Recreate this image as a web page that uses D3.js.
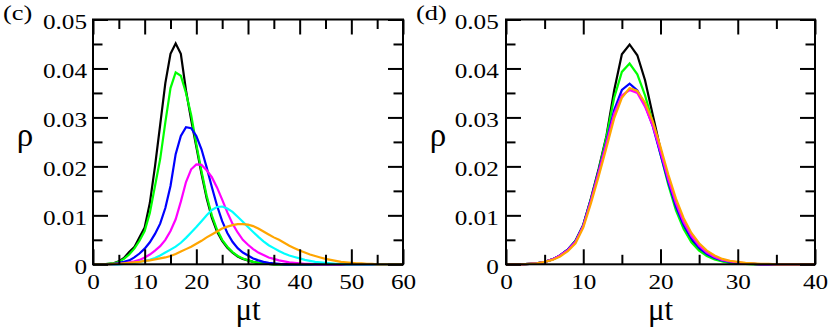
<!DOCTYPE html>
<html>
<head>
<meta charset="utf-8">
<script src="https://cdn.jsdelivr.net/npm/d3@7"></script>
<style>
  html, body { margin: 0; padding: 0; background: #fff; }
  svg { display: block; }
</style>
</head>
<body>
<div id="chart"></div>
<script>
// Layout constants
const CFG = {
  width: 830,
  height: 327,
  top: 19.5,
  bottom: 264.3,
  majorTick: 15,
  minorTick: 9.5,
  tickFont: 21,
  titleFont: 31,
  stretch: 1.2,
  fontFamily: '"Liberation Serif", "Times New Roman", serif',
};

// ---- data: panel (c) ----
const tC = [0,1,2,3,4,5,6,7,8,9,10,11,12,13,14,15,16,17,18,19,20,21,22,23,24,25,26,27,28,29,30,
  31,32,33,34,35,36,37,38,39,40,41,42,43,44,45,46,47,48,49,50,51,52,53,54,55,56,57,58,59,60];
const blackC = [0,0,0,0.0001,0.0002,0.0006,0.0013,0.0025,0.0035,0.0055,0.0075,0.0125,0.0200,0.0285,0.0370,0.0430,0.0451,
  0.0430,0.0355,0.0295,0.0240,0.0185,0.0135,0.0095,0.0067,0.0048,0.0034,0.0024,0.0016,0.0011,0.0008,
  0.0005,0.0003,0.0002,0.0001,0,0,0,0,0,0,0,0,0,0,0,0,0,0,0,0,0,0,0,0,0,0,0,0,0,0];
const greenC = [0,0,0,0.0001,0.0002,0.0005,0.0011,0.0020,0.0032,0.0048,0.0068,0.0105,0.0160,0.0215,0.0290,0.0360,0.0392,
  0.0385,0.0350,0.0305,0.0245,0.0190,0.0140,0.0100,0.0071,0.0050,0.0036,0.0025,0.0017,0.0012,0.0008,
  0.0005,0.0003,0.0002,0.0001,0,0,0,0,0,0,0,0,0,0,0,0,0,0,0,0,0,0,0,0,0,0,0,0,0,0];
const blueC = [0,0,0,0,0.0001,0.0003,0.0005,0.0008,0.0014,0.0022,0.0032,0.0045,0.0062,0.0083,0.0115,0.0160,0.0225,
  0.0262,0.0280,0.0278,0.0262,0.0235,0.0198,0.0158,0.0120,0.0088,0.0064,0.0046,0.0033,0.0024,0.0018,
  0.0012,0.0008,0.0005,0.0003,0.0002,0.0001,0,0,0,0,0,0,0,0,0,0,0,0,0,0,0,0,0,0,0,0,0,0,0,0];
const magentaC = [0,0,0,0,0,0.0001,0.0002,0.0004,0.0006,0.0009,0.0014,0.0020,0.0028,0.0037,0.0050,0.0068,0.0092,
  0.0128,0.0168,0.0194,0.0204,0.0203,0.0192,0.0178,0.0157,0.0132,0.0106,0.0083,0.0065,0.0050,0.0040,
  0.0031,0.0024,0.0019,0.0014,0.0011,0.0008,0.0006,0.0004,0.0003,0.0002,0.0001,0.0001,0,0,0,0,0,0,0,0,0,0,0,0,0,0,0,0,0,0];
const cyanC = [0,0,0,0,0,0,0.0001,0.0002,0.0003,0.0005,0.0007,0.0009,0.0013,0.0018,0.0024,0.0030,0.0036,
  0.0044,0.0054,0.0065,0.0076,0.0088,0.0100,0.0111,0.0117,0.0118,0.0114,0.0107,0.0097,0.0087,0.0076,
  0.0066,0.0056,0.0047,0.0039,0.0033,0.0027,0.0022,0.0018,0.0015,0.0012,0.0009,0.0007,0.0005,0.0004,0.0003,
  0.0002,0.0001,0.0001,0,0,0,0,0,0,0,0,0,0,0,0];
const orangeC = [0,0,0,0,0.0001,0.0001,0.0002,0.0003,0.0004,0.0005,0.0007,0.0008,0.0010,0.0012,0.0014,0.0017,0.0021,
  0.0026,0.0031,0.0036,0.0042,0.0048,0.0055,0.0061,0.0067,0.0073,0.0077,0.0080,0.0082,0.0082,0.0081,
  0.0078,0.0073,0.0067,0.0061,0.0055,0.0050,0.0044,0.0038,0.0033,0.0028,0.0024,0.0020,0.0017,0.0014,0.0011,
  0.0009,0.0007,0.0005,0.0004,0.0003,0.0002,0.0002,0.0001,0.0001,0,0,0,0,0,0];

// ---- data: panel (d) ----
const tD = [0,1,2,3,4,5,6,7,8,9,10,11,12,13,14,15,16,17,18,19,20,21,22,23,24,25,26,27,28,29,30,
  31,32,33,34,35,36,37,38,39,40];
const blackD = [0,0,0,0.0001,0.0002,0.0005,0.0010,0.0018,0.0030,0.0048,0.0080,0.0135,0.0195,0.0262,0.0355,0.0429,0.0449,
  0.0427,0.0376,0.0305,0.0235,0.0170,0.0115,0.0077,0.0050,0.0032,0.0020,0.0012,0.0007,0.0004,0.0002,
  0.0001,0.0001,0,0,0,0,0,0,0,0];
const greenD = [0,0,0,0.0001,0.0002,0.0005,0.0010,0.0018,0.0030,0.0048,0.0080,0.0133,0.0192,0.0260,0.0340,0.0393,0.0410,
  0.0388,0.0345,0.0290,0.0225,0.0163,0.0110,0.0072,0.0045,0.0028,0.0017,0.0010,0.0006,0.0003,0.0002,
  0.0001,0,0,0,0,0,0,0,0,0];
const blueD = [0,0,0,0.0001,0.0002,0.0005,0.0010,0.0018,0.0030,0.0047,0.0080,0.0132,0.0190,0.0250,0.0315,0.0356,0.0369,
  0.0355,0.0325,0.0282,0.0225,0.0168,0.0118,0.0080,0.0053,0.0034,0.0021,0.0013,0.0008,0.0005,0.0003,
  0.0002,0.0001,0,0,0,0,0,0,0,0];
const magentaD = [0,0,0,0.0001,0.0002,0.0005,0.0010,0.0018,0.0029,0.0046,0.0078,0.0130,0.0188,0.0247,0.0308,0.0345,0.0356,
  0.0350,0.0322,0.0283,0.0230,0.0174,0.0125,0.0086,0.0058,0.0038,0.0024,0.0015,0.0009,0.0006,0.0004,
  0.0002,0.0001,0,0,0,0,0,0,0,0];
const orangeD = [0,0,0,0.0001,0.0002,0.0005,0.0009,0.0016,0.0027,0.0043,0.0075,0.0125,0.0180,0.0238,0.0298,0.0340,0.0360,
  0.0354,0.0330,0.0292,0.0240,0.0184,0.0134,0.0094,0.0064,0.0043,0.0028,0.0018,0.0011,0.0007,0.0005,
  0.0003,0.0002,0.0001,0.0001,0,0,0,0,0,0];

const colors = { black: '#000000', green: '#00ff00', blue: '#0000ff', magenta: '#ff00ff', cyan: '#00ffff', orange: '#ffa500' };

const yTicks = [0, 0.01, 0.02, 0.03, 0.04, 0.05];
const yMinor = [0.005, 0.015, 0.025, 0.035, 0.045];

const panels = [
  {
    label: '(c)', labelX: 3, left: 93, right: 403, yLabelRight: 88,
    xMax: 60, xTicks: [0,10,20,30,40,50,60], xMinor: [5,15,25,35,45,55],
    t: tC,
    series: [
      { color: colors.black, values: blackC },
      { color: colors.green, values: greenC },
      { color: colors.blue, values: blueC },
      { color: colors.magenta, values: magentaC },
      { color: colors.cyan, values: cyanC },
      { color: colors.orange, values: orangeC },
    ],
  },
  {
    label: '(d)', labelX: 416, left: 506, right: 815, yLabelRight: 500,
    xMax: 40, xTicks: [0,10,20,30,40], xMinor: [5,15,25,35],
    t: tD,
    series: [
      { color: colors.black, values: blackD },
      { color: colors.green, values: greenD },
      { color: colors.blue, values: blueD },
      { color: colors.magenta, values: magentaD },
      { color: colors.orange, values: orangeD },
    ],
  },
];

const svg = d3.select('#chart').append('svg')
  .attr('width', CFG.width).attr('height', CFG.height)
  .attr('viewBox', `0 0 ${CFG.width} ${CFG.height}`);

svg.append('rect').attr('width', CFG.width).attr('height', CFG.height).attr('fill', '#fff');

const yFmt = d => d === 0 ? '0' : d3.format('.2f')(d);

const styleAxis = (g, showText) => {
  g.attr('font-family', CFG.fontFamily);
  g.select('.domain').remove();
  g.selectAll('.tick line').attr('stroke', '#000').attr('stroke-width', 2);
  if (!showText) g.selectAll('.tick text').remove();
  g.selectAll('.tick text')
    .attr('font-family', CFG.fontFamily)
    .attr('font-size', CFG.tickFont)
    .attr('fill', '#000');
};

panels.forEach(p => {
  const x = d3.scaleLinear().domain([0, p.xMax]).range([p.left, p.right]);
  const y = d3.scaleLinear().domain([0, 0.05]).range([CFG.bottom, CFG.top]);
  const w = p.right - p.left;
  const h = CFG.bottom - CFG.top;

  // curves
  const line = d3.line().x((d, i) => x(p.t[i])).y(d => y(d));
  p.series.forEach(s => {
    svg.append('path')
      .datum(s.values)
      .attr('d', line)
      .attr('fill', 'none')
      .attr('stroke', s.color)
      .attr('stroke-width', 2.2)
      .attr('stroke-linejoin', 'miter');
  });

  // bottom axis (major, labelled) + minor
  const gb = svg.append('g').attr('transform', `translate(0,${CFG.bottom})`)
    .call(d3.axisBottom(x).tickValues(p.xTicks).tickSize(-CFG.majorTick).tickSizeOuter(0).tickPadding(10));
  styleAxis(gb, true);
  gb.selectAll('.tick text').attr('transform', `scale(${CFG.stretch},1)`);
  styleAxis(svg.append('g').attr('transform', `translate(0,${CFG.bottom})`)
    .call(d3.axisBottom(x).tickValues(p.xMinor).tickSize(-CFG.minorTick).tickSizeOuter(0)), false);

  // top axis
  styleAxis(svg.append('g').attr('transform', `translate(0,${CFG.top})`)
    .call(d3.axisTop(x).tickValues(p.xTicks).tickSize(-CFG.majorTick).tickSizeOuter(0)), false);
  styleAxis(svg.append('g').attr('transform', `translate(0,${CFG.top})`)
    .call(d3.axisTop(x).tickValues(p.xMinor).tickSize(-CFG.minorTick).tickSizeOuter(0)), false);

  // left axis (labelled)
  const gl = svg.append('g').attr('transform', `translate(${p.left},0)`)
    .call(d3.axisLeft(y).tickValues(yTicks).tickFormat(yFmt).tickSize(-CFG.majorTick).tickSizeOuter(0)
      .tickPadding(p.left - p.yLabelRight));
  styleAxis(gl, true);
  gl.selectAll('.tick text').attr('dy', '0.45em').attr('transform', `scale(${CFG.stretch},1)`);
  styleAxis(svg.append('g').attr('transform', `translate(${p.left},0)`)
    .call(d3.axisLeft(y).tickValues(yMinor).tickSize(-CFG.minorTick).tickSizeOuter(0)), false);

  // right axis
  styleAxis(svg.append('g').attr('transform', `translate(${p.right},0)`)
    .call(d3.axisRight(y).tickValues(yTicks).tickSize(-CFG.majorTick).tickSizeOuter(0)), false);
  styleAxis(svg.append('g').attr('transform', `translate(${p.right},0)`)
    .call(d3.axisRight(y).tickValues(yMinor).tickSize(-CFG.minorTick).tickSizeOuter(0)), false);

  // frame
  svg.append('rect')
    .attr('x', p.left).attr('y', CFG.top)
    .attr('width', w).attr('height', h)
    .attr('fill', 'none').attr('stroke', '#000').attr('stroke-width', 2);

  // axis titles
  svg.append('text')
    .attr('x', p.left - 68).attr('y', 146)
    .attr('text-anchor', 'middle')
    .attr('font-family', CFG.fontFamily).attr('font-size', CFG.titleFont + 2)
    .text('ρ');
  svg.append('text')
    .attr('x', (p.left + p.right) / 2).attr('y', 320)
    .attr('text-anchor', 'middle')
    .attr('font-family', CFG.fontFamily).attr('font-size', CFG.titleFont)
    .text('μt');

  // panel label
  svg.append('text')
    .attr('transform', `translate(${p.labelX},20) scale(${CFG.stretch},1)`)
    .attr('font-family', CFG.fontFamily).attr('font-size', 22)
    .text(p.label);
});
</script>
</body>
</html>
